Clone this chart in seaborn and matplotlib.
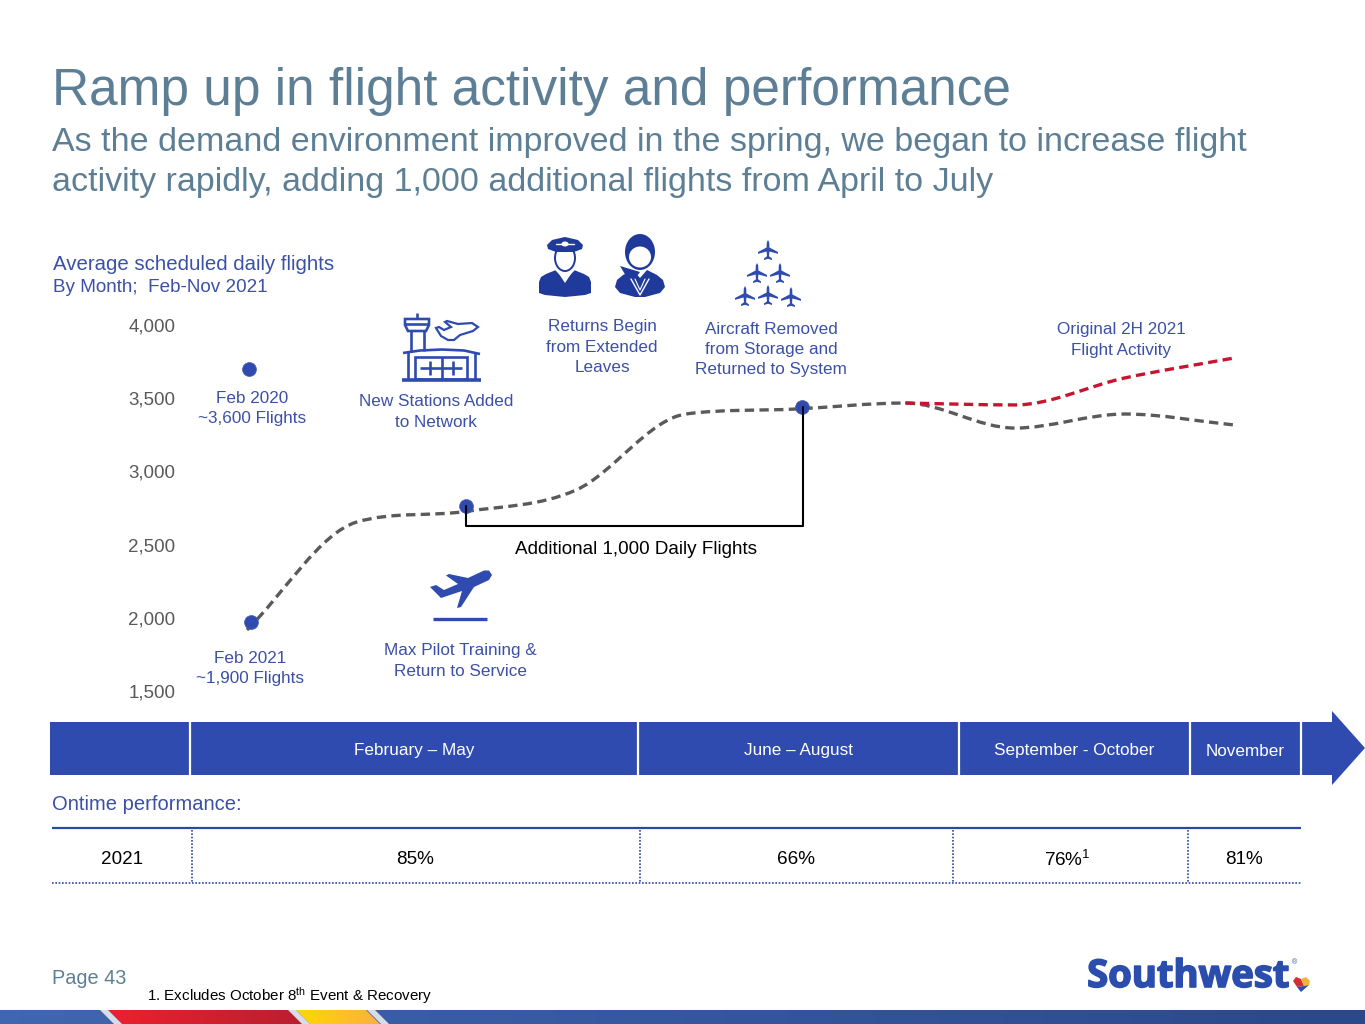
import matplotlib.pyplot as plt
import matplotlib.patheffects as pe
import numpy as np
import pandas as pd
import seaborn as sns
from matplotlib.colors import LinearSegmentedColormap
from matplotlib.patches import Ellipse, PathPatch, Polygon, Rectangle
from matplotlib.path import Path

WIDTH, HEIGHT = 1365, 1024

BLUE = "#2F4BAF"
NAVY = "#1F3A9A"
TEXT_BLUE = "#3B50A6"
SLATE = "#5D7F95"
GRAY = "#5A5A5A"
RED = "#C8142F"

months = ["Feb", "Mar", "Apr", "May", "Jun", "Jul", "Aug", "Sep", "Oct", "Nov"]
flights_actual = [1917, 2654, 2727, 2873, 3392, 3426, 3467, 3296, 3392, 3317]
plan_months = ["Aug", "Sep", "Oct", "Nov"]
flights_original = [3467, 3454, 3638, 3775]

marker_months = [0.02, 0.04, 2.0, 5.06]
marker_flights = [3699, 1971, 2764, 3440]
bracket_months = [2.0, 2.0, 5.07, 5.07]
bracket_flights = [2764, 2627, 2627, 3440]

y_ticks = [1500, 2000, 2500, 3000, 3500, 4000]
periods = ["February – May", "June – August", "September - October", "November"]
period_centers = [414, 799, 1074, 1245]
period_edges = [190, 638, 959, 1190, 1301]
ontime_labels = ["2021", "85%", "66%", "76%$^{1}$", "81%"]
ontime_centers = [122, 415, 796, 1067, 1244]
ontime_edges = [192, 640, 953, 1188]

callouts = [
    (252, 408.5, "Feb 2020\n~3,600 Flights"),
    (250, 668.5, "Feb 2021\n~1,900 Flights"),
    (436, 412, "New Stations Added\nto Network"),
    (460, 661, "Max Pilot Training &\nReturn to Service"),
    (602, 347, "Returns Begin\nfrom Extended\nLeaves"),
    (771, 349.5, "Aircraft Removed\nfrom Storage and\nReturned to System"),
    (1121, 340, "Original 2H 2021\nFlight Activity"),
]


def tangents(y):
    # Catmull-Rom slopes, flattened at peaks and limited so nothing overshoots
    slopes = np.diff(y)
    d = np.zeros(len(y))
    d[0], d[-1] = slopes[0], slopes[-1]
    for i in range(1, len(y) - 1):
        a, b = slopes[i - 1], slopes[i]
        if a * b > 0:
            d[i] = np.sign(a) * min((abs(a) + abs(b)) / 2, 3 * min(abs(a), abs(b)))
    return d


def smooth_line(ax, line, **style):
    # swap the straight segments for a curve through the same points
    xy = line.get_xydata()
    x, y = xy[:, 0], xy[:, 1]
    d = tangents(y)
    verts = [(x[0], y[0])]
    for i in range(len(x) - 1):
        verts.append((x[i] + 1 / 3, y[i] + d[i] / 3))
        verts.append((x[i + 1] - 1 / 3, y[i + 1] - d[i + 1] / 3))
        verts.append((x[i + 1], y[i + 1]))
    codes = [Path.MOVETO] + [Path.CURVE4] * (len(verts) - 1)
    line.remove()
    ax.add_patch(PathPatch(Path(verts, codes), fill=False, capstyle="butt", **style))


def plane(ax, cx, cy, size, color=BLUE):
    pts = np.array([
        (0, -1), (0.12, -0.75), (0.14, -0.25), (1, 0.2), (1, 0.38), (0.14, 0.15),
        (0.1, 0.62), (0.4, 0.85), (0.4, 1), (0, 0.88), (-0.4, 1), (-0.4, 0.85),
        (-0.1, 0.62), (-0.14, 0.15), (-1, 0.38), (-1, 0.2), (-0.14, -0.25), (-0.12, -0.75),
    ])
    ax.add_patch(Polygon(pts * size + (cx, cy), color=color, lw=0))


def draw_crew(ax):
    # pilot
    ax.add_patch(Polygon([(539, 293), (539, 282), (541, 277), (546, 274), (556, 270), (565, 279), (574, 270),
                          (584, 274), (589, 277), (591, 282), (591, 293), (585, 295), (565, 297), (545, 295)],
                         color=NAVY, lw=0))
    ax.add_patch(Polygon([(557, 271), (565, 283), (573, 271), (569, 268), (561, 268)], color="white", lw=0))
    ax.plot([556, 565, 574], [270, 279, 270], color="white", lw=1)
    ax.add_patch(Ellipse((565, 258), 20, 26, fc="white", ec=NAVY, lw=1.4))
    ax.add_patch(Polygon([(547, 245), (552, 240), (565, 237), (578, 240), (583, 245), (582, 249), (574, 252),
                          (556, 252), (548, 249)], color=NAVY, lw=0))
    ax.plot([556, 574], [244, 244], color="white", lw=1)
    ax.add_patch(Ellipse((565, 244), 7, 5, color="white", lw=0))
    # attendant
    ax.add_patch(Ellipse((640, 252), 30, 36, color=NAVY, lw=0))
    ax.add_patch(Ellipse((640, 257), 22, 21, color="white", lw=0))
    ax.add_patch(Polygon([(615, 287), (617, 280), (623, 275), (633, 270), (640, 278), (647, 270), (657, 275),
                          (663, 280), (665, 287), (660, 293), (645, 297), (635, 297), (620, 293)],
                         color=NAVY, lw=0))
    ax.add_patch(Polygon([(620, 266), (640, 272), (634, 280), (626, 276)], color=NAVY, lw=0))
    ax.plot([631, 640, 649], [279, 295, 279], color="white", lw=1)
    ax.plot([635, 640, 645], [279, 290, 279], color="white", lw=0.8)


def draw_airport(ax):
    kw = dict(color=BLUE, lw=1.9, solid_capstyle="butt")
    ax.plot([402, 481], [379.5, 379.5], color=BLUE, lw=2.6, solid_capstyle="butt")
    ax.plot([403, 420, 442, 464, 480], [353, 350.5, 349.5, 350.5, 354], **kw)
    ax.plot([408, 408], [352, 379], **kw)
    ax.plot([475, 475], [352, 379], **kw)
    ax.add_patch(Rectangle((415, 357), 52, 22, fill=False, ec=BLUE, lw=1.9))
    ax.plot([442, 442], [357, 379], **kw)
    ax.plot([420, 462], [368, 368], **kw)
    ax.plot([430, 430], [361, 375], **kw)
    ax.plot([453, 453], [361, 375], **kw)
    # tower
    ax.plot([411, 411], [331, 351], **kw)
    ax.plot([424, 424], [331, 351], **kw)
    ax.add_patch(Polygon([(405, 319), (429, 319), (429, 325), (426, 331), (408, 331), (405, 325)],
                         fill=False, ec=BLUE, lw=1.9))
    ax.plot([405, 429], [324, 324], **kw)
    ax.plot([417, 417], [313, 319], **kw)
    # outlined plane beside the tower
    ax.add_patch(Polygon([(478, 327), (472, 323), (458, 324), (447, 321), (445, 322), (451, 327), (444, 330),
                          (439, 327), (436, 328), (441, 336), (448, 340), (454, 340), (460, 335), (473, 331)],
                         fill=False, ec=BLUE, lw=1.6))


def draw_takeoff(ax):
    ax.add_patch(Polygon([(489, 570.5), (484, 570.5), (468, 578), (449, 574), (446, 575.5), (458, 584),
                          (444, 590), (436, 585), (430, 587), (441, 598), (462, 591), (457, 608),
                          (461, 607), (474, 587), (489, 580), (492, 575)], color=BLUE, lw=0))
    ax.plot([433, 487], [618.5, 618.5], color=BLUE, lw=2.4, solid_capstyle="butt")


def gradient_patch(ax, corners, start, end):
    # horizontal colour ramp clipped to a parallelogram
    xs = [c[0] for c in corners]
    ys = [c[1] for c in corners]
    cmap = LinearSegmentedColormap.from_list("ramp", [start, end])
    img = ax.imshow(np.linspace(0, 1, 64)[None, :], cmap=cmap, aspect="auto",
                    extent=(min(xs), max(xs), max(ys), min(ys)), zorder=1)
    clip = Polygon(corners, transform=ax.transData, fc="none", ec="none")
    ax.add_patch(clip)
    img.set_clip_path(clip)


def draw_band(ax):
    gradient_patch(ax, [(0, 1010), (WIDTH, 1010), (WIDTH, 1024), (0, 1024)], "#3F66B0", "#2C488C")
    gradient_patch(ax, [(108, 1010), (290, 1010), (305, 1024), (122, 1024)], "#EE1F2D", "#B81F30")
    gradient_patch(ax, [(296, 1010), (366, 1010), (380, 1024), (310, 1024)], "#FFD800", "#FBB040")
    for x in [100, 288, 367]:
        ax.add_patch(Polygon([(x, 1010), (x + 8, 1010), (x + 22, 1024), (x + 14, 1024)],
                             color="#D8DCE6", lw=0, zorder=2))


def draw_logo(ax):
    ax.text(1290, 977, "Southwest", color="#2B4DAE", fontsize=27.5, family="Open Sans", weight="bold",
            ha="right", va="center",
            path_effects=[pe.withStroke(linewidth=1.2, foreground="#2B4DAE")])
    ax.text(1294, 963, "®", color="#2B4DAE", fontsize=5, ha="center", va="center")
    ax.add_patch(Polygon([(1293, 981), (1296, 977), (1301, 979), (1304, 986), (1297, 987)], color="#D62B35", lw=0))
    ax.add_patch(Polygon([(1301, 979), (1306, 977), (1310, 981), (1309, 985), (1304, 986)], color="#F5B335", lw=0))
    ax.add_patch(Polygon([(1297, 987), (1304, 986), (1309, 985), (1301, 992)], color="#2B4DAE", lw=0))


sns.set_theme(style="white")
plt.rcParams["font.family"] = ["Liberation Sans", "DejaVu Sans"]
plt.rcParams["mathtext.default"] = "regular"

fig = plt.figure(figsize=(WIDTH / 100, HEIGHT / 100), dpi=100, facecolor="white")

# whole-slide layer in pixel coordinates, for the furniture around the chart
slide = fig.add_axes([0, 0, 1, 1], zorder=1)
slide.axis("off")

# chart: x from px 190 to 1300, y from px 700 up to 310
left, right, top, bottom = 190, 1300, 310, 700
ax = fig.add_axes([left / WIDTH, 1 - bottom / HEIGHT, (right - left) / WIDTH, (bottom - top) / HEIGHT], zorder=2)
ax.patch.set_alpha(0)
ax.set_xlim((left - 247) / 109.7, (right - 247) / 109.7)
ax.set_ylim(1500 - 9 / 0.1464, 1500 + (691 - top) / 0.1464)

actual = pd.DataFrame({"month": np.arange(len(months)), "flights": flights_actual})
original = pd.DataFrame({"month": [months.index(m) for m in plan_months], "flights": flights_original})
markers = pd.DataFrame({"month": marker_months, "flights": marker_flights})

sns.lineplot(data=actual, x="month", y="flights", ax=ax)
smooth_line(ax, ax.lines[-1], ec=GRAY, lw=2.4, ls=(0, (2.8, 1.6)), zorder=3)
sns.lineplot(data=original, x="month", y="flights", ax=ax)
smooth_line(ax, ax.lines[-1], ec=RED, lw=2.4, ls=(0, (2.8, 1.6)), zorder=4)
sns.scatterplot(data=markers, x="month", y="flights", color=BLUE, s=100, edgecolor="#4A5FA8", linewidth=0.5,
                ax=ax, zorder=4.5)
ax.plot(bracket_months, bracket_flights, color="black", lw=1.5, zorder=5)

ax.set_xlabel("")
ax.set_ylabel("")
ax.set_xticks([])
ax.set_yticks(y_ticks)
ax.set_yticklabels([f"{v:,}" for v in y_ticks])
ax.tick_params(axis="y", length=0, pad=10.4, labelsize=13.5, labelcolor="#595959")
sns.despine(ax=ax, left=True, bottom=True)

# headings
slide.text(52, 92, "Ramp up in flight activity and performance", color=SLATE, fontsize=37, va="center")
slide.text(52, 142, "As the demand environment improved in the spring, we began to increase flight",
           color=SLATE, fontsize=24.5, va="center")
slide.text(52, 183, "activity rapidly, adding 1,000 additional flights from April to July",
           color=SLATE, fontsize=24.5, va="center")
slide.text(53, 264.5, "Average scheduled daily flights", color=TEXT_BLUE, fontsize=14.7, va="center")
slide.text(53, 287.5, "By Month;  Feb-Nov 2021", color=TEXT_BLUE, fontsize=13.6, va="center")

for x, y, label in callouts:
    slide.text(x, y, label, color=TEXT_BLUE, fontsize=12.3, ha="center", va="center", linespacing=1.45)
slide.text(636, 550, "Additional 1,000 Daily Flights", color="black", fontsize=13.6, ha="center", va="center")

draw_crew(slide)
for cx, cy, size in [(768, 250, 10), (757, 273, 10), (780, 273, 10), (745, 296, 10), (768, 295, 10), (791, 297, 10)]:
    plane(slide, cx, cy, size)
draw_airport(slide)
draw_takeoff(slide)

# timeline arrow
slide.add_patch(Polygon([(50, 722), (1332, 722), (1332, 711), (1365, 748), (1332, 785), (1332, 775), (50, 775)],
                        color=BLUE, lw=0))
for x in period_edges:
    slide.plot([x, x], [722, 775], color="white", lw=1.6, solid_capstyle="butt")
for x, label in zip(period_centers, periods):
    slide.text(x, 751, label, color="white", fontsize=12.3, ha="center", va="center")

# on-time table
slide.text(52, 804, "Ontime performance:", color=TEXT_BLUE, fontsize=14.5, va="center")
slide.plot([52, 1301], [828, 828], color="#2A4AA0", lw=1.6, solid_capstyle="butt")
slide.plot([52, 1301], [883, 883], color="#2A4AA0", lw=1.2, ls=(0, (1, 1)))
for x in ontime_edges:
    slide.plot([x, x], [830, 883], color="#2A4AA0", lw=1.2, ls=(0, (1, 1)))
for x, label in zip(ontime_centers, ontime_labels):
    slide.text(x, 860, label, color="black", fontsize=13.6, ha="center", va="center")

# footer
slide.text(52, 979, "Page 43", color=SLATE, fontsize=14.3, va="center")
slide.text(147, 996, "1. Excludes October 8$^{th}$ Event & Recovery", color="black", fontsize=10.9, va="center")
draw_band(slide)
draw_logo(slide)

slide.set_xlim(0, WIDTH)
slide.set_ylim(HEIGHT, 0)
fig.savefig("out.png", dpi=100)
